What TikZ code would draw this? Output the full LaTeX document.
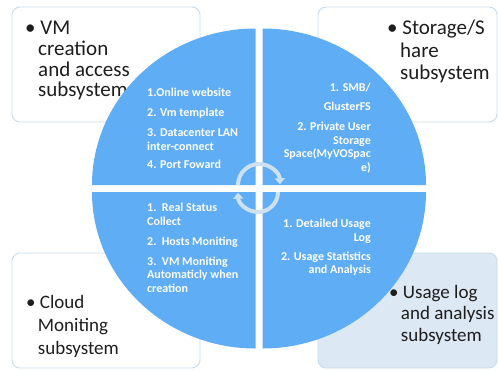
\documentclass[tikz,border=0pt]{standalone}
\usepackage{fontspec}
\setmainfont{Carlito}
\usetikzlibrary{arrows.meta}
\definecolor{qblue}{RGB}{95,173,245}
\definecolor{boxline}{RGB}{200,220,236}
\definecolor{brfill}{RGB}{220,232,243}
\definecolor{arrowc}{RGB}{205,225,243}
\definecolor{txt}{RGB}{30,30,30}
\tikzset{
  subbox/.style={draw=boxline, line width=0.9pt, rounded corners=8pt},
  quad/.style={fill=qblue, draw=none},
  boxtext/.style={anchor=north west, align=left, inner sep=0pt, text=txt},
  qtextl/.style={anchor=north west, align=left, inner sep=0pt, text=white,
    font=\bfseries\fontsize{12}{13.5}\selectfont},
  qtextr/.style={anchor=north east, align=right, inner sep=0pt, text=white,
    font=\bfseries\fontsize{12}{13.5}\selectfont},
  cyc/.style={draw=arrowc, line width=4pt, -{Triangle[width=10pt,length=6pt]}}
}
\begin{document}
\begin{tikzpicture}[x=1pt,y=-1pt]
\useasboundingbox[fill=white] (0,0) rectangle (498,370);
\def\cx{259}\def\cy{188.5}\def\g{3.5}\def\rx{163.5}\def\ry{156.5}
% boxes behind the circle
\draw[subbox, fill=white] (12,7) rectangle (200,122);
\draw[subbox, fill=white] (318,7) rectangle (497,122);
\draw[subbox, fill=white] (12,253) rectangle (200,368);
\draw[subbox, fill=brfill] (318,253) rectangle (497,368);
\node[boxtext, font=\fontsize{21}{20.7}\selectfont] (tl) at (25,21) {\textbullet\ VM\\\hspace{0.62em}creation\\\hspace{0.62em}and access\\\hspace{0.62em}subsystem};
\node[boxtext, font=\fontsize{21}{22.5}\selectfont] (tr) at (387,20) {\textbullet\ Storage/S\\\hspace{0.62em}hare\\\hspace{0.62em}subsystem};
\node[boxtext, font=\fontsize{19}{23}\selectfont] (bl) at (26,295) {\textbullet\ Cloud\\\hspace{0.62em}Moniting\\\hspace{0.62em}subsystem};
\node[boxtext, font=\fontsize{19}{21.5}\selectfont] (br) at (389,285) {\textbullet\ Usage log\\\hspace{0.62em}and analysis\\\hspace{0.62em}subsystem};
% circle quadrants
\path[quad] (\cx-\g,\cy-\g) -- (\cx-\g-\rx,\cy-\g) arc[start angle=180, end angle=270, x radius=\rx, y radius=\ry] -- cycle;
\path[quad] (\cx+\g,\cy-\g) -- (\cx+\g,\cy-\g-\ry) arc[start angle=270, end angle=360, x radius=\rx, y radius=\ry] -- cycle;
\path[quad] (\cx+\g,\cy+\g) -- (\cx+\g+\rx,\cy+\g) arc[start angle=0, end angle=90, x radius=\rx, y radius=\ry] -- cycle;
\path[quad] (\cx-\g,\cy+\g) -- (\cx-\g,\cy+\g+\ry) arc[start angle=90, end angle=180, x radius=\rx, y radius=\ry] -- cycle;
% quadrant texts
\node[qtextl] (q1) at (147,88) {1.Online website\\[6.5pt]2. Vm template\\[6.5pt]3. Datacenter LAN\\inter-connect\\[5pt]4. Port Foward};
\node[qtextr] (q2) at (371,83) {1. SMB/\\[5.5pt]GlusterFS\\[6.5pt]2. Private User\\Storage\\Space(MyVOSpac\\e)};
\node[qtextl] (q3) at (147,203) {1.\ \ Real Status\\Collect\\[6.5pt]2.\ \ Hosts Moniting\\[6.5pt]3.\ \ VM Moniting\\Automaticly when\\creation};
\node[qtextr] (q4) at (371,219) {1. Detailed Usage\\Log\\[5.5pt]2. Usage Statistics\\and Analysis};
% cycle arrows
\coordinate (c1) at (259,185);
\coordinate (c2) at (258,192);
\draw[cyc] ([xshift=-21pt]c1) arc[start angle=180, end angle=358, radius=21];
\draw[cyc] ([xshift=20pt]c2) arc[start angle=0, end angle=178, radius=20];
\end{tikzpicture}
\end{document}
